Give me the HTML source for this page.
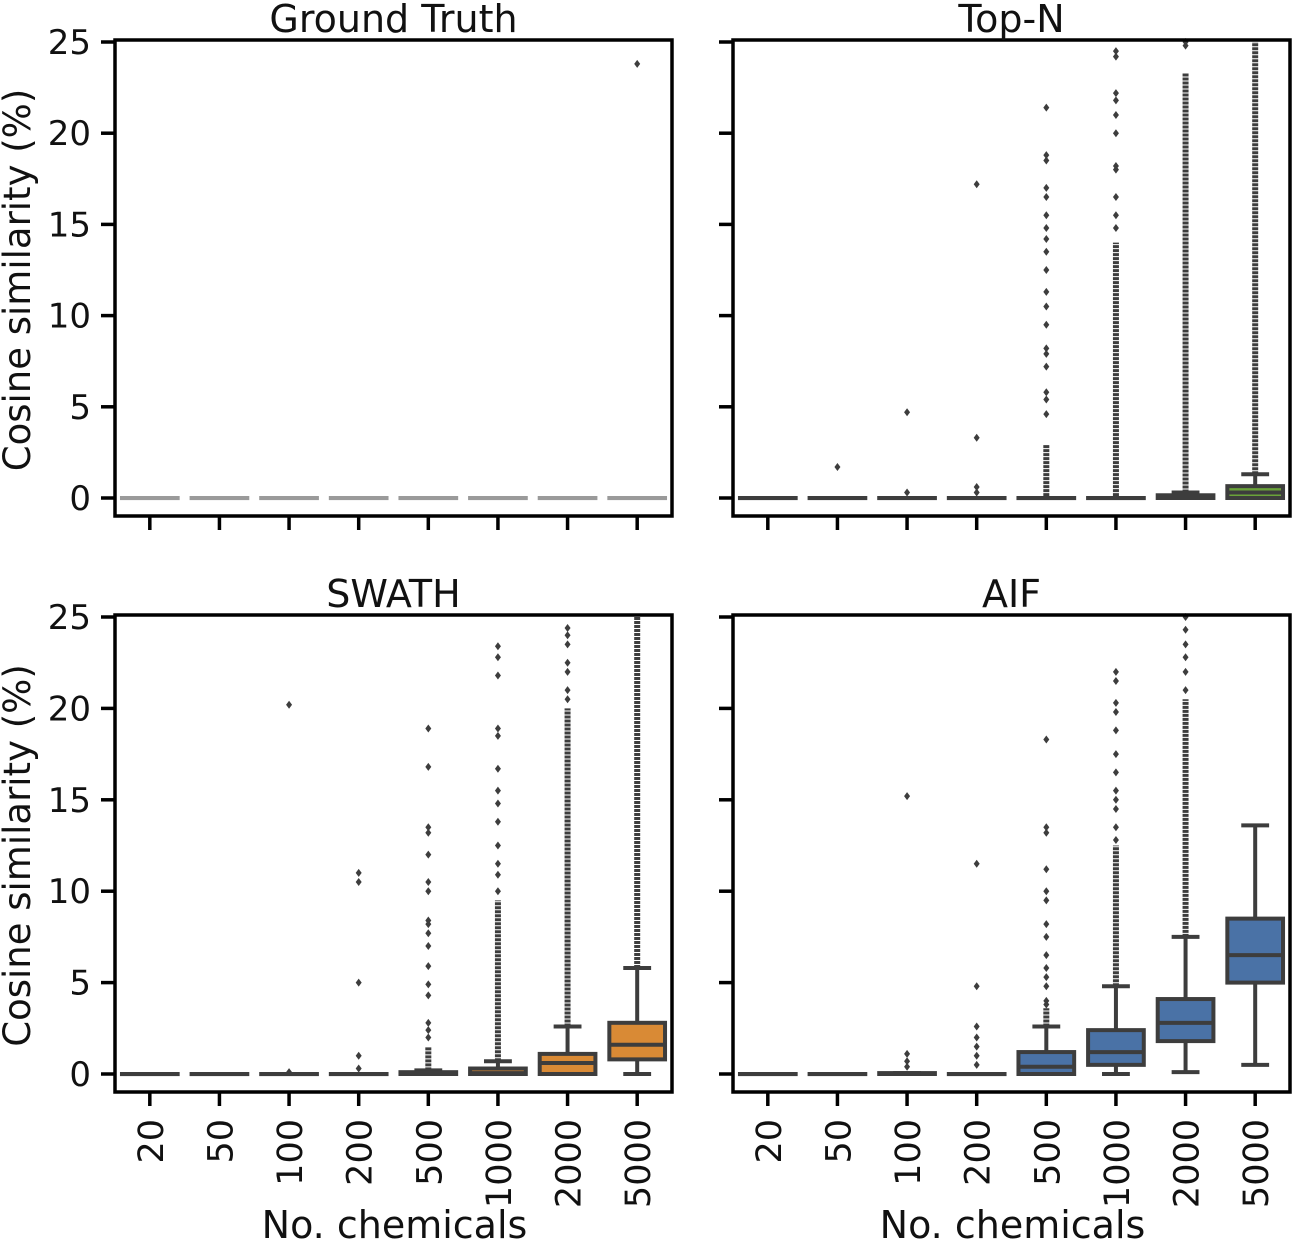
<!DOCTYPE html>
<html><head><meta charset="utf-8"><style>
html,body{margin:0;padding:0;background:#fff;}
svg{display:block;font-family:"DejaVu Sans","Liberation Sans",sans-serif;}
</style></head><body>
<svg id="chart" width="1296" height="1243" viewBox="0 0 1296 1243" xmlns="http://www.w3.org/2000/svg"></svg>
<script>
const categories = ["20","50","100","200","500","1000","2000","5000"];
const yTicks = [0,5,10,15,20,25];
const panelTitles = ["Ground Truth","Top-N","SWATH","AIF"];
const panelColors = ["#9a9a9a","#6aa339","#d98a35","#4a72a6"];
// [q1, median, q3, whisLo, whisHi] per category
const gtBoxes = [[0,0,0,0,0],[0,0,0,0,0],[0,0,0,0,0],[0,0,0,0,0],[0,0,0,0,0],[0,0,0,0,0],[0,0,0,0,0],[0,0,0,0,0]];
const topnBoxes = [[0,0,0,0,0],[0,0,0,0,0],[0,0,0,0,0],[0,0,0,0,0],[0,0,0,0,0],[0,0,0,0,0],[0,0,0.15,0,0.3],[0,0.3,0.65,0,1.3]];
const swathBoxes = [[0,0,0,0,0],[0,0,0,0,0],[0,0,0,0,0],[0,0,0,0,0],[0,0,0.1,0,0.2],[0,0.05,0.3,0,0.7],[0,0.6,1.1,0,2.6],[0.8,1.6,2.8,0,5.8]];
const aifBoxes = [[0,0,0,0,0],[0,0,0,0,0],[0,0,0.05,0,0.05],[0,0,0,0,0],[0,0.4,1.2,0,2.6],[0.5,1.2,2.4,0,4.8],[1.8,2.8,4.1,0.1,7.5],[5,6.5,8.5,0.5,13.6]];
// scattered outliers per category
const gtOutliers = [[],[],[],[],[],[],[],[23.8]];
const topnOutliers = [[],[1.7],[4.7,0.3],[17.2,3.3,0.6,0.3],[21.4,18.8,18.5,17.0,16.5,15.5,14.8,14.2,13.5,12.5,11.3,10.5,9.5,8.2,7.9,7.2,5.8,5.4,4.6],[24.5,24.2,22.2,21.8,21.0,20.0,18.2,18.0,16.5,15.5,14.8],[25,24.8],[]];
const swathOutliers = [[],[],[20.2,0.1],[11.0,10.5,5.0,1.0,0.3],[18.9,16.8,13.5,13.2,12.0,10.5,10.0,8.4,8.2,7.7,7.0,5.9,4.9,4.3,2.8,2.4,2.0],[23.4,22.8,21.8,18.9,18.5,16.7,15.5,14.8,13.8,12.5,11.5,10.9,10.0],[24.4,24.0,23.5,22.5,22.0,21.0,20.5],[]];
const aifOutliers = [[],[],[15.2,1.1,0.7,0.4],[11.5,4.8,2.6,2.0,1.5,1.0,0.5],[18.3,13.5,13.2,11.2,10.0,9.5,8.2,7.5,6.5,5.8,5.3,4.8,4.0,3.8],[22.0,21.5,20.3,19.8,18.8,17.5,16.5,15.5,15.0,14.5,13.5,12.8],[25,24.3,23.5,22.8,22.0,21.0],[]];
// dense outlier runs [from, to] per category (null = none)
const gtDense = [null,null,null,null,null,null,null,null];
const topnDense = [null,null,null,null,[0.1,2.9],[0.1,14],[0.3,23.3],[1.3,25]];
const swathDense = [null,null,null,null,[0.2,1.5],[0.7,9.5],[2.6,20],[5.8,25]];
const aifDense = [null,null,null,null,[2.6,3.6],[4.8,12.5],[7.5,20.5],null];

const boxes=[gtBoxes,topnBoxes,swathBoxes,aifBoxes];
const outs=[gtOutliers,topnOutliers,swathOutliers,aifOutliers];
const dense=[gtDense,topnDense,swathDense,aifDense];
const panels=[{x:115,y:40,w:557,h:476,yl:true,xl:false},{x:733,y:40,w:557,h:476,yl:false,xl:false},
{x:115,y:615,w:557,h:477,yl:true,xl:true},{x:733,y:615,w:557,h:477,yl:false,xl:true}];
const svg=document.getElementById('chart');
const NS="http://www.w3.org/2000/svg";
const LC="#3d3d3d";
function mk(tag,attrs,parent){const e=document.createElementNS(NS,tag);for(const k in attrs)e.setAttribute(k,attrs[k]);(parent||svg).appendChild(e);return e;}
panels.forEach((p,pi)=>{
  const g=mk('g',{});
  
  
  const y0=p.y+p.h-18, y25=p.y+2;
  const ys=v=>y0-(v/25)*(y0-y25);
  const bw=p.w/categories.length;
  const xs=i=>p.x+bw*(i+0.5);
  categories.forEach((c,i)=>{
    const b=boxes[pi][i];const cx=xs(i);const hw=bw*0.4;
    const d=dense[pi][i];
    if(d){const l=mk('line',{x1:cx,x2:cx,y1:ys(d[0]),y2:ys(d[1]),stroke:LC,'stroke-width':6,'stroke-dasharray':'3 1'},g);
      
      }
    outs[pi][i].forEach(v=>{const y=ys(v);const o=mk('path',{d:`M${cx} ${y-4}L${cx+3} ${y}L${cx} ${y+4}L${cx-3} ${y}Z`,fill:LC},g);
      
      });
    const [q1,med,q3,lo,hi]=b;
    const col=pi===0?panelColors[0]:LC;
    const sw=4;
    const w1=mk('line',{x1:cx,x2:cx,y1:ys(q3),y2:ys(hi),stroke:col,'stroke-width':sw},g);
    
    
    mk('line',{x1:cx,x2:cx,y1:ys(q1),y2:ys(lo),stroke:col,'stroke-width':sw},g);
    mk('line',{x1:cx-hw/2,x2:cx+hw/2,y1:ys(hi),y2:ys(hi),stroke:col,'stroke-width':sw},g);
    mk('line',{x1:cx-hw/2,x2:cx+hw/2,y1:ys(lo),y2:ys(lo),stroke:col,'stroke-width':sw},g);
    const h=Math.max(0.1,ys(q1)-ys(q3));
    const r=mk('rect',{x:cx-hw,y:ys(q3),width:hw*2,height:h,fill:panelColors[pi],stroke:col,'stroke-width':sw},g);
    
    
    mk('line',{x1:cx-hw,x2:cx+hw,y1:ys(med),y2:ys(med),stroke:col,'stroke-width':sw},g);
    mk('line',{x1:cx,x2:cx,y1:p.y+p.h,y2:p.y+p.h+14,stroke:'#000','stroke-width':3.5},g);
    if(p.xl){const t=mk('text',{x:0,y:0,transform:`translate(${cx+13},${p.y+p.h+27}) rotate(-90)`,'text-anchor':'end','font-size':35,fill:'#111'},g);t.textContent=c;
      
      }
  });
  yTicks.forEach(v=>{const y=ys(v);mk('line',{x1:p.x-14,x2:p.x,y1:y,y2:y,stroke:'#000','stroke-width':3.5},g);
    if(p.yl){const t=mk('text',{x:p.x-24,y:y+12,'text-anchor':'end','font-size':34,fill:'#111'},g);t.textContent=v;
      
      }});
  const fr=mk('rect',{x:p.x,y:p.y,width:p.w,height:p.h,fill:'none',stroke:'#000','stroke-width':3.5},g);
  
  
  const tt=mk('text',{x:p.x+p.w/2,y:p.y-8,'text-anchor':'middle','font-size':38,fill:'#111'},g);tt.textContent=panelTitles[pi];
  
  
  if(p.yl){const t=mk('text',{x:0,y:0,transform:`translate(${p.x-85},${p.y+p.h/2+2}) rotate(-90)`,'text-anchor':'middle','font-size':37,fill:'#111'},g);t.textContent='Cosine similarity (%)';
    
    }
  if(p.xl){const t=mk('text',{x:p.x+p.w/2+1,y:1238,'text-anchor':'middle','font-size':38,fill:'#111'},g);t.textContent='No. chemicals';
    
    }
});
</script>
</body></html>
